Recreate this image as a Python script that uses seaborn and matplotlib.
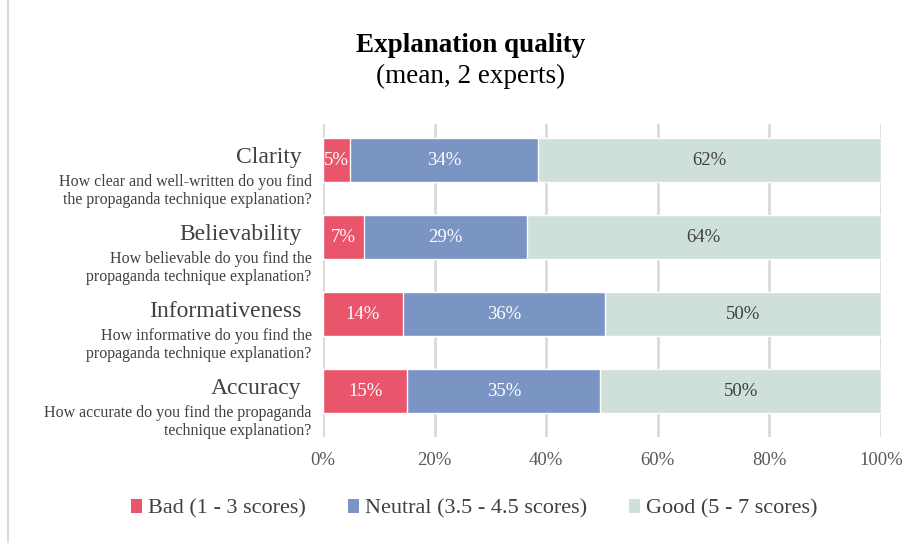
import matplotlib
matplotlib.use("Agg")
import matplotlib.pyplot as plt
from matplotlib.patches import Patch
from matplotlib.lines import Line2D
import pandas as pd
import seaborn as sns

# data
categories = ["Clarity", "Believability", "Informativeness", "Accuracy"]
questions = [
    "How clear and well-written do you find\nthe propaganda technique explanation?",
    "How believable do you find the\npropaganda technique explanation?",
    "How informative do you find the\npropaganda technique explanation?",
    "How accurate do you find the propaganda\ntechnique explanation?",
]
bad = [4.9, 7.4, 14.3, 15.1]
neutral = [33.6, 29.1, 36.2, 34.6]
good = [61.5, 63.5, 49.5, 50.3]
series_names = ["Bad (1 - 3 scores)", "Neutral (3.5 - 4.5 scores)", "Good (5 - 7 scores)"]
colors = ["#E9566B", "#7A94C4", "#CFE0DA"]
xticks = [0, 20, 40, 60, 80, 100]

sns.set_theme(style="white")
plt.rcParams["font.family"] = ["Liberation Serif", "DejaVu Serif"]

df = pd.DataFrame({"cat": categories, "bad": bad, "neutral": neutral, "good": good})
df["c1"] = df["bad"]
df["c2"] = df["bad"] + df["neutral"]
df["c3"] = df["c2"] + df["good"]

fig = plt.figure(figsize=(9.21, 5.43), dpi=100)
ax = fig.add_axes([0.3507, 0.1952, 0.6059, 0.5764])

# stacked bars: draw cumulative totals from the back
for col, color in zip(["c3", "c2", "c1"], colors[::-1]):
    sns.barplot(data=df, x=col, y="cat", order=categories, color=color,
                width=0.57, saturation=1, ax=ax, zorder=3)

ax.set_xlim(0, 100)
ax.set_ylim(3.597, -0.468)
ax.set_xticks(xticks)
ax.set_xticklabels([f"{t}%" for t in xticks], fontsize=13.5, color="#595959")
ax.tick_params(axis="x", length=0, pad=11)
ax.set_yticks([])
ax.set_xlabel("")
ax.set_ylabel("")
for s in ax.spines.values():
    s.set_visible(False)
ax.grid(axis="x", color="#D9D9D9", linewidth=2, zorder=0)

# segment labels
for i in range(len(categories)):
    starts = [0, bad[i], bad[i] + neutral[i]]
    vals = [bad[i], neutral[i], good[i]]
    for j, (st, v) in enumerate(zip(starts, vals)):
        ax.text(st + v / 2, i, f"{v:.0f}%", ha="center", va="center",
                fontsize=13.5, color="white" if j < 2 else "#404040", zorder=5)

# category labels with questions
for i, (c, q) in enumerate(zip(categories, questions)):
    ax.text(-0.038, i - 0.03, c, transform=ax.get_yaxis_transform(),
            ha="right", va="center", fontsize=17, color="#404040")
    ax.text(-0.02, i + 0.175, q, transform=ax.get_yaxis_transform(),
            ha="right", va="top", fontsize=11.5, color="#404040", linespacing=1.22)

fig.text(0.511, 0.917, "Explanation quality", ha="center", va="center",
         fontsize=19.5, fontweight="bold", color="black")
fig.text(0.511, 0.86, "(mean, 2 experts)", ha="center", va="center",
         fontsize=19.5, color="black")

handles = [Patch(facecolor=c, edgecolor="none") for c in colors]
fig.legend(handles, series_names, loc="center", bbox_to_anchor=(0.515, 0.063),
           ncol=3, frameon=False, fontsize=16, handlelength=0.5, handleheight=0.6,
           handletextpad=0.25, columnspacing=1.9, labelcolor="#404040")

# chart frame edge
fig.add_artist(Line2D([0.009, 0.009], [0, 1], transform=fig.transFigure,
                      color="#D9D9D9", linewidth=1.5))

fig.savefig("out.png", dpi=100, facecolor="white")
